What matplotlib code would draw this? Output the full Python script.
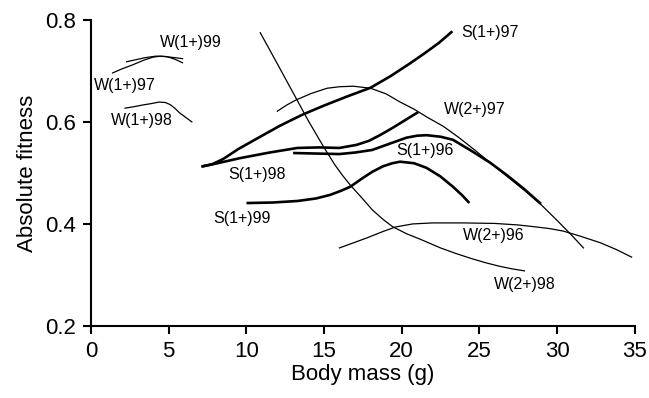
import matplotlib
matplotlib.use("Agg")
import matplotlib.pyplot as plt

plt.rcParams['font.family'] = ['Liberation Sans', 'DejaVu Sans']

# ---- curves: (body mass g, absolute fitness) ----
# thin lines (W groups)
w1_97_x = [1.4, 2.0, 2.7, 3.4, 4.0, 4.5, 4.9, 5.4, 5.9]
w1_97_y = [0.696, 0.704, 0.712, 0.721, 0.727, 0.729, 0.728, 0.723, 0.716]
w1_99_x = [2.3, 2.9, 3.5, 4.2, 4.8, 5.4, 5.9]
w1_99_y = [0.718, 0.722, 0.726, 0.729, 0.728, 0.726, 0.724]
w1_98_x = [2.2, 2.8, 3.3, 3.9, 4.4, 4.8, 5.1, 5.4, 5.7, 6.1, 6.5]
w1_98_y = [0.627, 0.630, 0.633, 0.636, 0.639, 0.638, 0.634, 0.627, 0.618, 0.609, 0.600]
w2_98_x = [10.9, 12.0, 13.0, 14.0, 15.0, 15.7, 16.2, 16.7, 17.5, 18.1, 18.8, 19.4,
           20.3, 21.2, 22.5, 23.5, 24.4, 25.4, 26.3, 27.1, 27.9]
w2_98_y = [0.775, 0.714, 0.658, 0.602, 0.550, 0.516, 0.495, 0.476, 0.449, 0.428, 0.409, 0.395,
           0.381, 0.370, 0.353, 0.342, 0.333, 0.324, 0.317, 0.312, 0.308]
w2_97_x = [12.0, 12.6, 13.2, 14.2, 15.2, 16.0, 16.9, 18.0, 19.0, 19.9, 20.8, 21.6,
           22.7, 23.7, 24.7, 25.7, 26.8, 27.9, 28.9, 30.0, 31.0, 31.7]
w2_97_y = [0.621, 0.633, 0.643, 0.656, 0.666, 0.669, 0.670, 0.666, 0.655, 0.639, 0.625, 0.610,
           0.591, 0.569, 0.545, 0.520, 0.493, 0.466, 0.440, 0.407, 0.376, 0.353]
w2_96_x = [16.0, 16.9, 17.8, 18.7, 19.6, 20.7, 22.0, 24.0, 26.0, 27.5, 28.4, 29.5,
           30.4, 31.5, 32.8, 33.8, 34.8]
w2_96_y = [0.353, 0.363, 0.373, 0.384, 0.394, 0.400, 0.402, 0.402, 0.401, 0.398, 0.395, 0.391,
           0.386, 0.376, 0.363, 0.350, 0.335]

# thick lines (S groups)
s1_97_x = [7.2, 7.8, 8.5, 9.5, 10.9, 12.2, 13.6, 15.0, 16.5, 18.0, 19.3, 20.5,
           21.5, 22.4, 23.2]
s1_97_y = [0.513, 0.517, 0.527, 0.547, 0.571, 0.593, 0.614, 0.632, 0.650, 0.667, 0.690, 0.714,
           0.735, 0.755, 0.776]
s1_98_x = [7.2, 8.0, 9.6, 11.5, 13.3, 14.7, 16.0, 17.1, 17.9, 18.6, 19.4, 20.2, 21.0]
s1_98_y = [0.513, 0.518, 0.529, 0.540, 0.549, 0.550, 0.549, 0.555, 0.563, 0.574, 0.588, 0.603, 0.618]
s1_96_x = [13.1, 14.5, 16.0, 17.0, 18.1, 19.2, 20.3, 21.0, 21.6, 22.5, 23.3, 24.4,
           25.7, 26.8, 27.9, 28.9]
s1_96_y = [0.539, 0.538, 0.537, 0.540, 0.545, 0.557, 0.569, 0.573, 0.574, 0.571, 0.565, 0.545,
           0.520, 0.495, 0.468, 0.441]
s1_99_x = [10.1, 11.7, 13.3, 14.5, 15.4, 16.1, 16.7, 17.4, 18.1, 18.8, 19.4, 19.9,
           20.8, 21.6, 22.5, 23.3, 23.9, 24.3]
s1_99_y = [0.441, 0.442, 0.445, 0.450, 0.457, 0.465, 0.473, 0.488, 0.502, 0.513, 0.519, 0.522,
           0.519, 0.510, 0.493, 0.473, 0.456, 0.443]

thin = [(w1_97_x, w1_97_y), (w1_99_x, w1_99_y), (w1_98_x, w1_98_y),
        (w2_98_x, w2_98_y), (w2_97_x, w2_97_y), (w2_96_x, w2_96_y)]
thick = [(s1_97_x, s1_97_y), (s1_98_x, s1_98_y), (s1_96_x, s1_96_y), (s1_99_x, s1_99_y)]

# curve labels and where they sit
labels = ["W(1+)99", "W(1+)97", "W(1+)98", "S(1+)98", "S(1+)99",
          "S(1+)97", "W(2+)97", "S(1+)96", "W(2+)96", "W(2+)98"]
label_x = [6.4, 2.2, 3.3, 10.7, 9.7, 25.7, 24.7, 21.5, 25.9, 27.9]
label_y = [0.755, 0.672, 0.602, 0.496, 0.410, 0.776, 0.625, 0.543, 0.378, 0.282]

xticks = [0, 5, 10, 15, 20, 25, 30, 35]
yticks = [0.2, 0.4, 0.6, 0.8]

fig = plt.figure(figsize=(6.49, 3.98), dpi=100)
ax = fig.add_axes([0.140, 0.181, 0.838, 0.769])

for x, y in thin:
    ax.plot(x, y, color="black", lw=0.9, solid_joinstyle="round")
for x, y in thick:
    ax.plot(x, y, color="black", lw=1.9, solid_joinstyle="round")

for t, x, y in zip(labels, label_x, label_y):
    ax.text(x, y, t, fontsize=11.5, ha="center", va="center")

ax.set_xlim(0, 35)
ax.set_ylim(0.2, 0.8)
ax.set_xticks(xticks)
ax.set_yticks(yticks)
ax.set_xticklabels([str(v) for v in xticks])
ax.set_yticklabels([f"{v:.1f}" for v in yticks])
ax.tick_params(direction="out", length=6, width=1.5, labelsize=16)
ax.tick_params(axis="x", pad=5)
ax.tick_params(axis="y", pad=5)

for side in ["top", "right"]:
    ax.spines[side].set_visible(False)
for side in ["left", "bottom"]:
    ax.spines[side].set_linewidth(1.5)

ax.set_xlabel("Body mass (g)", fontsize=16, labelpad=1)
ax.set_ylabel("Absolute fitness", fontsize=16, labelpad=5)

fig.savefig("out.png", dpi=100)
